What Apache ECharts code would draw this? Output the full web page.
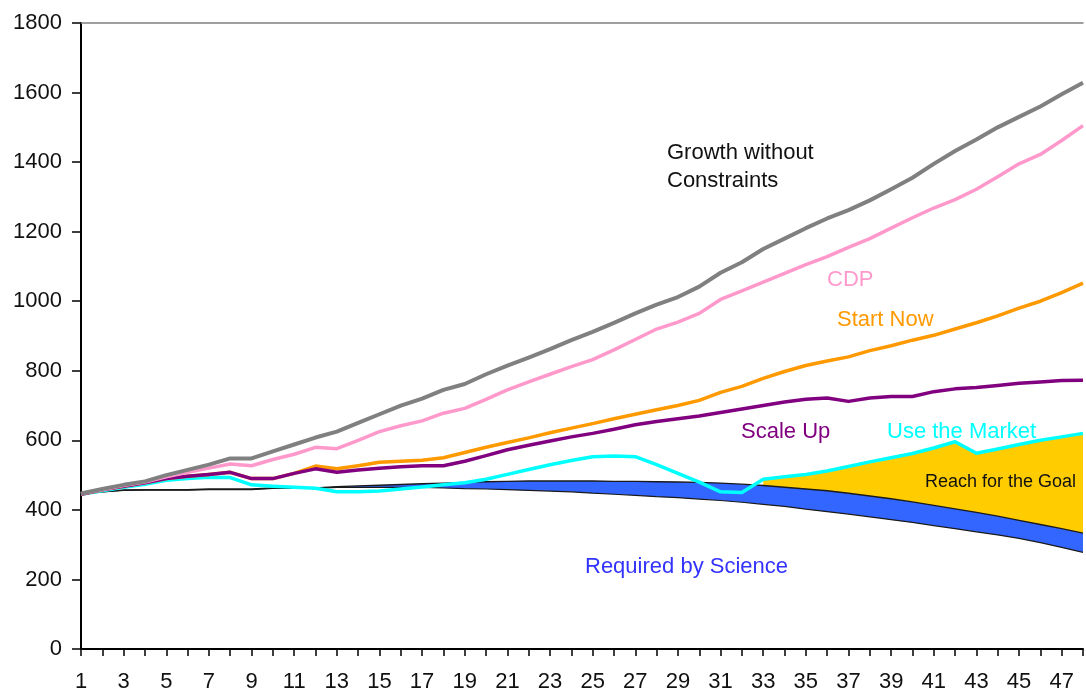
<!DOCTYPE html>
<html>
<head>
<meta charset="utf-8">
<script src="https://cdn.jsdelivr.net/npm/echarts@6/dist/echarts.min.js"></script>
<style>
  html, body { margin: 0; padding: 0; background: #fff; }
  #chart { width: 1086px; height: 693px; }
</style>
</head>
<body>
<div id="chart"></div>
<script>
// ---- data ----
const categories = ['1','2','3','4','5','6','7','8','9','10','11','12','13','14','15','16','17','18','19','20',
  '21','22','23','24','25','26','27','28','29','30','31','32','33','34','35','36','37','38','39','40',
  '41','42','43','44','45','46','47','48'];

const growthWithoutConstraints = [447,460,472,482,500,515,530,548,548,568,588,608,625,650,675,700,720,745,762,790,
  815,838,862,888,912,938,965,990,1012,1042,1082,1112,1150,1180,1210,1238,1262,1290,1322,1355,
  1395,1432,1465,1500,1530,1560,1595,1628];

const cdp = [446,458,470,480,495,508,520,532,527,545,560,580,576,600,625,642,656,678,692,718,
  745,768,790,812,832,860,890,920,940,965,1005,1030,1055,1080,1105,1128,1155,1180,1210,1240,
  1268,1292,1322,1358,1395,1422,1462,1505];

const startNow = [445,458,468,478,490,497,502,508,490,490,505,526,518,527,537,540,543,550,565,580,
  594,607,622,635,648,662,675,688,700,715,738,755,778,798,815,828,840,858,872,888,
  902,920,938,958,980,1000,1025,1052];

const scaleUp = [445,458,468,478,490,497,502,508,490,490,505,518,508,515,520,524,527,527,540,556,
  573,586,598,610,620,632,645,654,662,670,680,690,700,710,718,722,712,722,726,726,
  740,748,752,758,764,768,772,773];

const useTheMarket = [445,455,465,474,485,490,494,493,472,468,465,462,452,452,454,460,466,472,478,488,
  502,516,530,542,553,555,553,530,505,480,452,450,488,495,502,512,525,538,550,562,
  578,596,563,575,588,600,610,620];

// "Required by Science" band: lower and upper edges
const scienceLow = [445,452,456,457,457,457,458,458,458,462,462,462,465,465,465,465,465,463,461,460,
  458,456,454,452,448,445,442,438,435,431,427,422,416,410,402,395,388,380,372,364,
  355,346,337,328,318,306,292,278];
const scienceHigh = [445,452,457,458,458,458,460,460,460,463,463,463,467,469,471,473,475,477,479,481,
  482,483,483,483,483,482,482,481,480,479,477,474,470,465,460,455,448,440,432,423,
  413,403,393,382,370,358,346,333];

// "Reach for the Goal" fill starts where the market line rises above the science band
const reachStartCategory = '33';

const yTicks = { min: 0, max: 1800, interval: 200 };

// ---- derived tables for stacking ----
const reachStart = categories.indexOf(reachStartCategory);
const bandThickness = scienceHigh.map((v, i) => v - scienceLow[i]);
const reachThickness = useTheMarket.map((v, i) => i >= reachStart ? Math.max(0, v - scienceHigh[i]) : '-');

const FONT = 'Arial, "Liberation Sans", sans-serif';

const chart = echarts.init(document.getElementById('chart'), null, { renderer: 'canvas' });

function lineSeries(name, data, color, z, width) {
  return {
    name, type: 'line', data, symbol: 'none', z,
    lineStyle: { color, width: width || 3.5, join: 'round' },
    itemStyle: { color },
    silent: true, animation: false
  };
}

function label(text, x, y, color, size) {
  return {
    type: 'text', x, y, z: 100,
    style: {
      text, fill: color, font: (size || 22) + 'px ' + FONT,
      textAlign: 'left', textVerticalAlign: 'middle'
    }
  };
}

chart.setOption({
  animation: false,
  backgroundColor: '#fff',
  grid: { left: 81, right: 3, top: 23, bottom: 43, containLabel: false },
  xAxis: [{
    type: 'category', data: categories, boundaryGap: false, position: 'bottom',
    axisLine: { show: true, onZero: false, lineStyle: { color: '#000', width: 2 } },
    axisTick: { show: true, interval: 0, length: 7, lineStyle: { color: '#000', width: 1.5 } },
    axisLabel: { interval: 1, margin: 22, color: '#111', fontSize: 22, fontFamily: FONT },
    splitLine: { show: false }
  }, {
    type: 'category', data: categories, boundaryGap: false, position: 'top',
    axisLine: { show: true, onZero: false, lineStyle: { color: '#808080', width: 1.5 } },
    axisTick: { show: false }, axisLabel: { show: false }, splitLine: { show: false }
  }],
  yAxis: {
    type: 'value', min: yTicks.min, max: yTicks.max, interval: yTicks.interval,
    axisLine: { show: true, lineStyle: { color: '#000', width: 2 } },
    axisTick: { show: true, length: 9, lineStyle: { color: '#000', width: 1.5 } },
    axisLabel: { margin: 19, color: '#111', fontSize: 22, fontFamily: FONT, formatter: v => String(v) },
    splitLine: { show: false }
  },
  series: [
    {
      name: 'scienceBase', type: 'line', stack: 'sci', data: scienceLow, symbol: 'none', z: 4,
      lineStyle: { color: '#1a1a1a', width: 1.2 }, silent: true
    },
    {
      name: 'Required by Science', type: 'line', stack: 'sci', data: bandThickness, symbol: 'none', z: 3,
      lineStyle: { color: '#1a1a1a', width: 1.4 },
      areaStyle: { color: '#3366FF', opacity: 1 }, silent: true
    },
    {
      name: 'Reach for the Goal', type: 'line', stack: 'sci', data: reachThickness, symbol: 'none', z: 2,
      lineStyle: { width: 0 }, connectNulls: false,
      areaStyle: { color: '#FFCC00', opacity: 1 }, silent: true
    },
    lineSeries('Use the Market', useTheMarket, '#00FFFF', 5),
    lineSeries('Start Now', startNow, '#FF9900', 6),
    lineSeries('Scale Up', scaleUp, '#800080', 7),
    lineSeries('CDP', cdp, '#FF99CC', 8),
    lineSeries('Growth without Constraints', growthWithoutConstraints, '#808080', 9, 4)
  ],
  graphic: [
    label('Growth without', 667, 153, '#111'),
    label('Constraints', 667, 181, '#111'),
    label('CDP', 827, 280, '#FF99CC'),
    label('Start Now', 837, 320, '#FF9900'),
    label('Scale Up', 741, 432, '#800080'),
    label('Use the Market', 887, 432, '#00FFFF'),
    label('Reach for the Goal', 925, 482, '#111', 18),
    label('Required by Science', 585, 567, '#3333FF')
  ]
});
</script>
</body>
</html>
